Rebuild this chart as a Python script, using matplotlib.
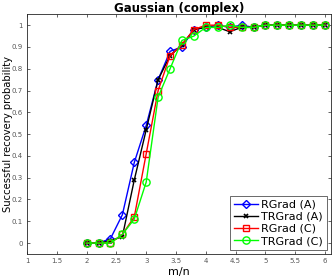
import matplotlib
matplotlib.use("Agg")
import matplotlib.pyplot as plt
import numpy as np

ratios = [2.0, 2.2, 2.4, 2.6, 2.8, 3.0, 3.2, 3.4, 3.6, 3.8, 4.0, 4.2, 4.4, 4.6, 4.8, 5.0, 5.2, 5.4, 5.6, 5.8, 6.0]
rgrad_a = [0.0, 0.0, 0.02, 0.13, 0.37, 0.54, 0.75, 0.88, 0.90, 0.98, 0.99, 1.0, 0.99, 1.0, 0.99, 1.0, 1.0, 1.0, 1.0, 1.0, 1.0]
trgrad_a = [0.0, 0.0, 0.01, 0.03, 0.29, 0.52, 0.75, 0.86, 0.91, 0.98, 0.99, 0.99, 0.97, 0.99, 0.99, 1.0, 1.0, 1.0, 1.0, 1.0, 1.0]
rgrad_c = [0.0, 0.0, 0.0, 0.04, 0.12, 0.41, 0.70, 0.86, 0.91, 0.98, 1.0, 1.0, 0.99, 0.99, 0.99, 1.0, 1.0, 1.0, 1.0, 1.0, 1.0]
trgrad_c = [0.0, 0.0, 0.0, 0.04, 0.11, 0.28, 0.67, 0.80, 0.93, 0.95, 0.99, 0.99, 1.0, 0.99, 0.99, 1.0, 1.0, 1.0, 1.0, 1.0, 1.0]
labels = ["RGrad (A)", "TRGrad (A)", "RGrad (C)", "TRGrad (C)"]
xticks = [1, 1.5, 2, 2.5, 3, 3.5, 4, 4.5, 5, 5.5, 6]
yticks = [0, 0.1, 0.2, 0.3, 0.4, 0.5, 0.6, 0.7, 0.8, 0.9, 1]

fig = plt.figure(figsize=(3.32, 2.8), dpi=100)
ax = fig.add_axes([0.0813, 0.093, 0.9157, 0.856])

styles = [
    dict(color=(0, 0, 1), marker="D", ms=4.2, mfc="none"),
    dict(color="black", marker="x", ms=3.5, mew=1.2),
    dict(color=(1, 0, 0), marker="s", ms=4.2, mfc="none"),
    dict(color=(0, 1, 0), marker="o", ms=5.2, mfc="none"),
]
for ys, lab, st in zip([rgrad_a, trgrad_a, rgrad_c, trgrad_c], labels, styles):
    ax.plot(ratios, ys, lw=1.0, label=lab, **st)

ax.set_xlim(1, 6.1)
ax.set_ylim(-0.05, 1.05)
ax.set_xticks(xticks)
ax.set_xticklabels([f"{t:g}" for t in xticks])
ax.set_yticks(yticks)
ax.set_yticklabels([f"{t:g}" for t in yticks])
ax.tick_params(direction="in", top=True, right=True, labelsize=5, colors="#262626",
               length=2.5, width=0.5, pad=3)
for lbl in ax.get_xticklabels() + ax.get_yticklabels():
    lbl.set_color("#555555")
for s in ax.spines.values():
    s.set_linewidth(0.6)
    s.set_color("#262626")
ax.set_title("Gaussian (complex)", fontsize=8.5, fontweight="bold", pad=2)
ax.set_xlabel("m/n", fontsize=8, labelpad=2)
ax.set_ylabel("Successful recovery probability", fontsize=7.2, labelpad=2)
ax.yaxis.set_label_coords(-0.047, 0.5)
leg = ax.legend(loc="lower right", fontsize=8, frameon=True, fancybox=False,
                borderpad=0.3, handlelength=2.2, handletextpad=0.3, labelspacing=0.2,
                borderaxespad=0.4)
leg.get_frame().set_edgecolor("#262626")
leg.get_frame().set_linewidth(0.6)

fig.savefig("out.png", dpi=100)
